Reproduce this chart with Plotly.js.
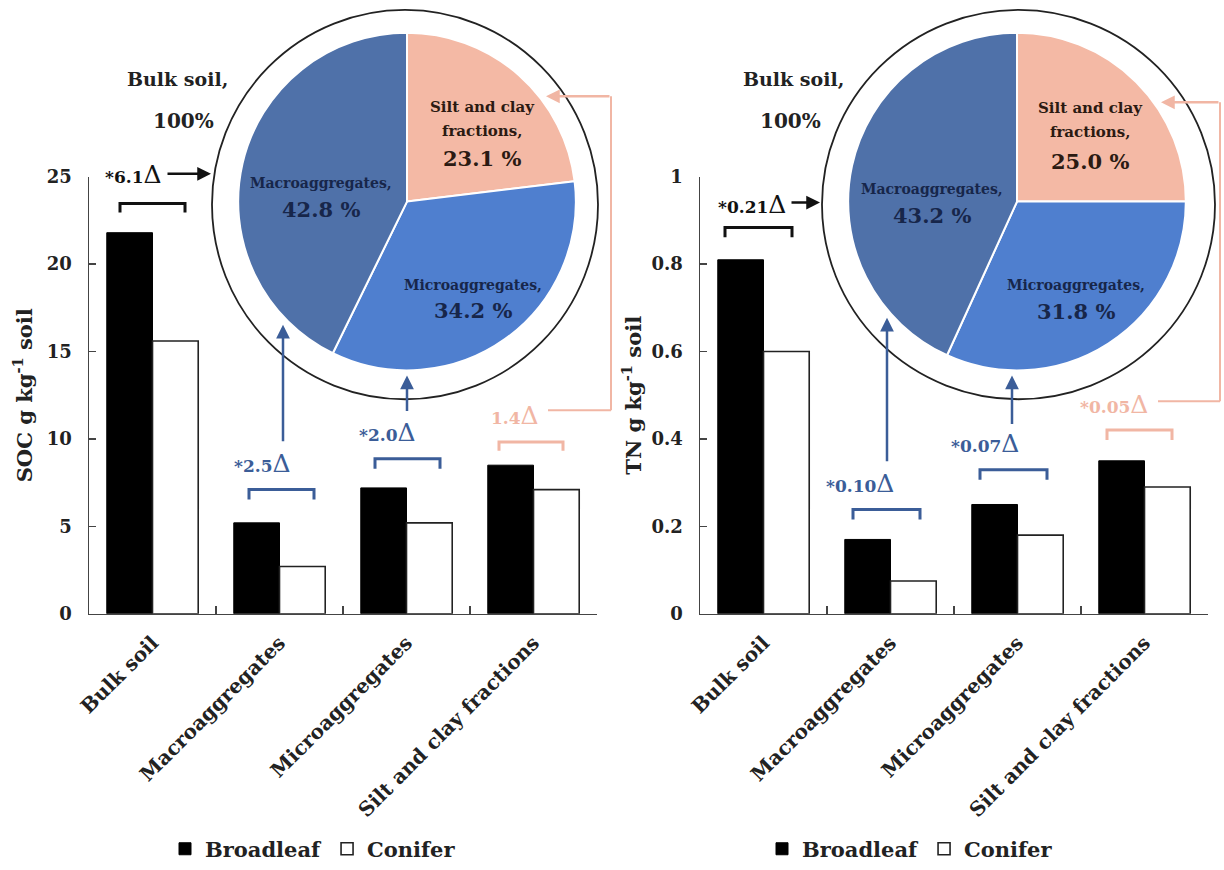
<!DOCTYPE html>
<html>
<head>
<meta charset="utf-8">
<script src="https://cdn.plot.ly/plotly-3.0.1.min.js"></script>
<style>html,body{margin:0;padding:0;background:#fff;}#chart{width:1224px;height:870px;}</style>
</head>
<body>
<div id="chart"></div>
<script>
// ---------- data ----------
const categories = ['Bulk soil', 'Macroaggregates', 'Microaggregates', 'Silt and clay fractions'];
const socBroadleaf = [21.8, 5.2, 7.2, 8.5];
const socConifer   = [15.6, 2.7, 5.2, 7.1];
const tnBroadleaf  = [0.81, 0.17, 0.25, 0.35];
const tnConifer    = [0.60, 0.075, 0.18, 0.29];
const pieLabels    = ['Silt and clay fractions', 'Microaggregates', 'Macroaggregates'];
const socPie       = [23.1, 34.2, 42.8];
const tnPie        = [25.0, 31.8, 43.2];
const socDeltas    = ['*6.1', '*2.5', '*2.0', '1.4'];
const tnDeltas     = ['*0.21', '*0.10', '*0.07', '*0.05'];
const seriesNames  = ['Broadleaf', 'Conifer'];

// ---------- helpers ----------
const W = 1224, H = 870;
const px = x => x / W;
const py = y => 1 - y / H;
const FONT = 'DejaVu Serif';
const BLACK = '#111111', BLUE = '#3b5d98', PINK = '#f1b6a4';
const sliceColors = ['#f4b9a5', '#4f7fcf', '#4f71a9'];

const data = [];
// bars
function addBars(xa, ya, b, c, legendId) {
  data.push({type: 'bar', x: categories, y: b, name: seriesNames[0], xaxis: xa, yaxis: ya,
    legend: legendId, marker: {color: '#000', line: {color: '#000', width: 1}}, hoverinfo: 'none'});
  data.push({type: 'bar', x: categories, y: c, name: seriesNames[1], xaxis: xa, yaxis: ya,
    legend: legendId, marker: {color: '#fff', line: {color: '#222', width: 1.6}}, hoverinfo: 'none'});
}
addBars('x', 'y', socBroadleaf, socConifer, 'legend');
addBars('x2', 'y2', tnBroadleaf, tnConifer, 'legend2');

// pies
function addPie(vals, cx, cy, r) {
  data.push({type: 'pie', values: vals, labels: pieLabels, sort: false, direction: 'clockwise',
    rotation: 0, textinfo: 'none', hoverinfo: 'none', showlegend: false,
    marker: {colors: sliceColors, line: {color: '#fff', width: 2}},
    domain: {x: [px(cx - r), px(cx + r)], y: [py(cy + r), py(cy - r)]}});
}
addPie(socPie, 407, 203, 170);
addPie(tnPie, 1017, 203, 170);

// ---------- decorations ----------
const shapes = [];
const annotations = [];
function circle(x0, x1, y0, y1) {
  shapes.push({type: 'circle', xref: 'paper', yref: 'paper', x0: px(x0), x1: px(x1), y0: py(y1), y1: py(y0),
    line: {color: '#222', width: 1.8}, fillcolor: 'rgba(0,0,0,0)', layer: 'below'});
}
circle(212, 598, 10, 402);
circle(822, 1215, 10, 402);

function bracket(x1, x2, yTop, yLeg, color) {
  shapes.push({type: 'path', xref: 'paper', yref: 'paper',
    path: `M ${px(x1)},${py(yLeg)} L ${px(x1)},${py(yTop)} L ${px(x2)},${py(yTop)} L ${px(x2)},${py(yLeg)}`,
    line: {color: color, width: 3}});
}
function line(x1, y1, x2, y2, color, w) {
  shapes.push({type: 'line', xref: 'paper', yref: 'paper', x0: px(x1), y0: py(y1), x1: px(x2), y1: py(y2),
    line: {color: color, width: w || 2}});
}
function arrow(xs, ys, xe, ye, color) {
  annotations.push({xref: 'paper', yref: 'paper', x: px(xe), y: py(ye), ax: xs - xe, ay: ys - ye,
    axref: 'pixel', ayref: 'pixel', text: '', showarrow: true, arrowhead: 2, arrowsize: 1.1,
    arrowwidth: 2.5, arrowcolor: color});
}
function txt(x, y, text, size, color, weight) {
  annotations.push({xref: 'paper', yref: 'paper', x: px(x), y: py(y), text: text, showarrow: false,
    xanchor: 'center', yanchor: 'middle',
    font: {family: FONT, size: size, color: color, weight: weight || 'bold'}});
}
function delta(x, y, label, color) {
  txt(x, y, label + "<span style='font-weight:normal;font-size:25px'>Δ</span>", 17, color);
}

// left panel
bracket(120, 185, 205, 214, BLACK);
bracket(249, 314, 493, 503, BLUE);
bracket(375, 440, 462, 472, BLUE);
bracket(499, 563, 445, 454, PINK);
delta(133, 176, socDeltas[0], BLACK);
delta(262, 467, socDeltas[1], BLUE);
delta(387, 435, socDeltas[2], BLUE);
delta(515, 418, socDeltas[3], PINK);
arrow(166, 175, 211, 175, BLACK);
arrow(283, 445, 283, 327, BLUE);
arrow(407, 415, 407, 378, BLUE);
line(548, 413, 611, 413, PINK, 2);
line(611, 413, 611, 97, PINK, 2);
arrow(611, 97, 546, 97, PINK);

// right panel
bracket(725, 792, 229, 239, BLACK);
bracket(853, 920, 513, 523, BLUE);
bracket(980, 1047, 473, 483, BLUE);
bracket(1107, 1172, 433, 443, PINK);
delta(752, 206, tnDeltas[0], BLACK);
delta(860, 487, tnDeltas[1], BLUE);
delta(985, 447, tnDeltas[2], BLUE);
delta(1114, 407, tnDeltas[3], PINK);
arrow(790, 204, 820, 204, BLACK);
arrow(887, 465, 887, 320, BLUE);
arrow(1012, 428, 1012, 378, BLUE);
line(1158, 404, 1220, 404, PINK, 2);
line(1220, 404, 1220, 103, PINK, 2);
arrow(1220, 103, 1161, 103, PINK);

// pie labels
const NAVY = '#17264a', BROWN = '#2b1a12';
function pieText(vals, pos) {
  // pos: [silt, micro, macro] each [x, yName, yPct]
  txt(pos[0][0], pos[0][1] - 12, 'Silt and clay', 15, BROWN);
  txt(pos[0][0], pos[0][1] + 12, 'fractions,', 15, BROWN);
  txt(pos[0][0], pos[0][2], vals[0].toFixed(1) + ' %', 21, BROWN);
  txt(pos[1][0], pos[1][1], pieLabels[1] + ',', 14, NAVY);
  txt(pos[1][0], pos[1][2], vals[1].toFixed(1) + ' %', 21, NAVY);
  txt(pos[2][0], pos[2][1], pieLabels[2] + ',', 14, NAVY);
  txt(pos[2][0], pos[2][2], vals[2].toFixed(1) + ' %', 21, NAVY);
}
pieText(socPie, [[482, 120, 160], [473, 287, 313], [321, 184, 211]]);
pieText(tnPie, [[1090, 121, 163], [1076, 287, 314], [932, 190, 217]]);

txt(177, 80, 'Bulk soil,', 19, '#222');
txt(183, 122, '100%', 20, '#222');
txt(793, 80, 'Bulk soil,', 19, '#222');
txt(790, 122, '100%', 20, '#222');

// ---------- axes ----------
const tickFont = {family: FONT, size: 18, color: '#222', weight: 'bold'};
function xAxis(d0, d1, anchor) {
  return {domain: [px(d0), px(d1)], anchor: anchor, type: 'category', tickson: 'boundaries',
    ticks: 'inside', ticklen: 8, tickwidth: 1.5, tickcolor: '#444', showline: true, linecolor: '#444',
    linewidth: 1.5, tickangle: -45, ticklabelstandoff: 8,
    tickfont: {family: FONT, size: 20, color: '#222', weight: 'bold'},
    showgrid: false, zeroline: false, automargin: false, fixedrange: true};
}
function yAxis(anchor, range, dtick, title, standoff) {
  return {domain: [py(618), py(178)], anchor: anchor, range: range, dtick: dtick,
    ticks: 'inside', ticklen: 7, tickwidth: 1.5, tickcolor: '#444', showline: true, linecolor: '#444',
    linewidth: 1.5, tickfont: tickFont, ticklabelstandoff: 12, showgrid: false, zeroline: false,
    automargin: false, fixedrange: true,
    title: {text: title, standoff: standoff, font: {family: FONT, size: 21, color: '#222', weight: 'bold'}}};
}

const layout = {
  width: W, height: H, margin: {l: 0, r: 0, t: 0, b: 0},
  paper_bgcolor: '#fff', plot_bgcolor: 'rgba(0,0,0,0)',
  barmode: 'group', bargap: 0.28, bargroupgap: 0,
  xaxis: xAxis(89, 597, 'y'),
  yaxis: yAxis('x', [0, 25], 5, 'SOC g kg<sup>-1</sup> soil', 8),
  xaxis2: xAxis(700, 1208, 'y2'),
  yaxis2: yAxis('x2', [0, 1], 0.2, 'TN g kg<sup>-1</sup> soil', 4),
  legend: {x: px(313), y: py(855), xanchor: 'center', yanchor: 'middle', orientation: 'h',
    font: {family: FONT, size: 21, color: '#222', weight: 'bold'}, bgcolor: 'rgba(0,0,0,0)', itemwidth: 30},
  legend2: {x: px(910), y: py(855), xanchor: 'center', yanchor: 'middle', orientation: 'h',
    font: {family: FONT, size: 21, color: '#222', weight: 'bold'}, bgcolor: 'rgba(0,0,0,0)', itemwidth: 30},
  shapes: shapes,
  annotations: annotations,
  showlegend: true
};

Plotly.newPlot('chart', data, layout, {staticPlot: true, displayModeBar: false});
</script>
</body>
</html>
